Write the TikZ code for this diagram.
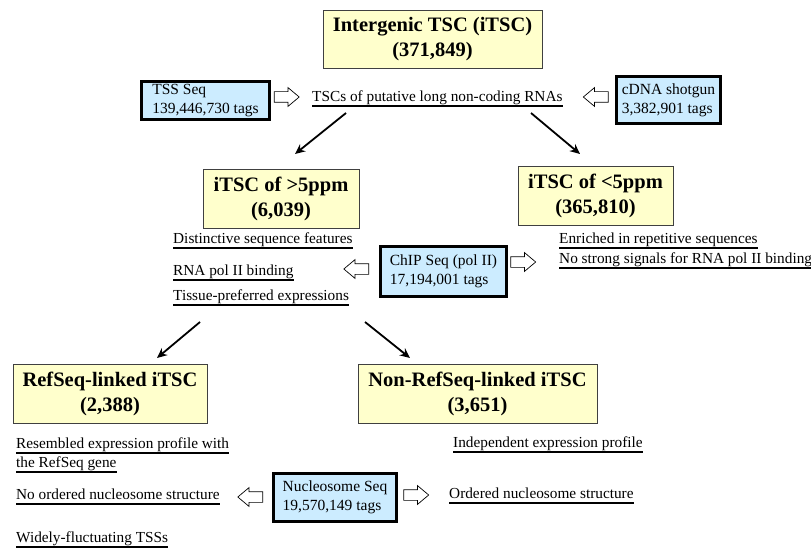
\documentclass[tikz,border=0pt]{standalone}
\usepackage{fontspec}
\setmainfont{Liberation Serif}
\usetikzlibrary{shapes.arrows,arrows.meta}
\definecolor{ylw}{HTML}{FFFFCC}
\definecolor{blu}{HTML}{CCECFF}
\begin{document}
\begin{tikzpicture}[x=1pt,y=-1pt,
 ybox/.style={draw=black!75, line width=0.9pt, fill=ylw, font=\fontsize{20.5}{25}\selectfont\bfseries, align=center, inner sep=0pt},
 bbox/.style={draw=black, line width=3pt, fill=blu, font=\fontsize{15.5}{19}\selectfont, align=left, inner sep=0pt},
 ul/.style={font=\fontsize{15.3}{18}\selectfont, inner xsep=0pt, inner ysep=1pt, text height=10.5pt, text depth=3.5pt, anchor=west,
   append after command={(\tikzlastnode.south west) edge[line width=2pt] (\tikzlastnode.south east)}},
 harrow/.style={single arrow, draw=black, line width=0.7pt, fill=white, minimum height=25pt, minimum width=17pt, inner xsep=0pt, inner ysep=5pt, single arrow head extend=4pt, single arrow tip angle=80},
 flow/.style={line width=1.8pt, -{Stealth[length=10pt,width=9pt]}}
]
\useasboundingbox[fill=white] (0,0) rectangle (811,548);

% yellow boxes
\node[ybox, minimum width=219pt, minimum height=58pt] (top) at (432.5,39) {Intergenic TSC (iTSC)\\(371,849)};
\node[ybox, minimum width=156pt, minimum height=59pt] (p5) at (281,198.5) {iTSC of {>}5ppm\\(6,039)};
\node[ybox, minimum width=155pt, minimum height=59pt] (m5) at (595.5,195.5) {iTSC of {<}5ppm\\(365,810)};
\node[ybox, minimum width=194pt, minimum height=59pt] (ref) at (110,393.5) {RefSeq-linked iTSC\\(2,388)};
\node[ybox, minimum width=239pt, minimum height=59pt] (nonref) at (477.5,393.5) {Non-RefSeq-linked iTSC\\(3,651)};

% blue boxes
\node[bbox, minimum width=128pt, minimum height=38pt] (tss) at (205.5,100.5) {TSS Seq\\139,446,730 tags};
\node[bbox, minimum width=104pt, minimum height=47pt] (cdna) at (668.5,100) {cDNA shotgun\\3,382,901 tags};
\node[bbox, minimum width=126pt, minimum height=50pt] (chip) at (443.5,271.5) {ChIP Seq (pol II)\\17,194,001 tags};
\node[bbox, minimum width=123pt, minimum height=48pt] (nuc) at (335,497.5) {Nucleosome Seq\\19,570,149 tags};

% underlined texts
\node[ul] (tscs) at (312,98) {TSCs of putative long non-coding RNAs};
\node[ul] (dist) at (173,240) {Distinctive sequence features};
\node[ul] (rna) at (173,272) {RNA pol II binding};
\node[ul] (tissue) at (173,297) {Tissue-preferred expressions};
\node[ul] (enr) at (559,240) {Enriched in repetitive sequences};
\node[ul] (nostrong) at (559,260) {No strong signals for RNA pol II binding};
\node[ul] (res1) at (16,445) {Resembled expression profile with};
\node[ul] (res2) at (16,464) {the RefSeq gene};
\node[ul] (noord) at (16,496) {No ordered nucleosome structure};
\node[ul] (widely) at (16,539) {Widely-fluctuating TSSs};
\node[ul] (indep) at (453,444) {Independent expression profile};
\node[ul] (ord) at (449,495) {Ordered nucleosome structure};

% hollow arrows
\node[harrow] (h1) at (283.5,97) {};
\node[harrow, shape border rotate=180] (h2) at (599,97) {};
\node[harrow, shape border rotate=180] (h3) at (359.5,269) {};
\node[harrow] (h4) at (520,262) {};
\node[harrow, shape border rotate=180] (h5) at (253.5,497) {};
\node[harrow] (h6) at (413,495) {};

% flow arrows
\coordinate (s1) at (346,113);
\coordinate (e1) at (295,154);
\coordinate (s2) at (531,113);
\coordinate (e2) at (580,154);
\coordinate (s3) at (200,322);
\coordinate (e3) at (157,358);
\coordinate (s4) at (365,322);
\coordinate (e4) at (410,358);
\draw[flow] (s1) -- (e1);
\draw[flow] (s2) -- (e2);
\draw[flow] (s3) -- (e3);
\draw[flow] (s4) -- (e4);
\end{tikzpicture}
\end{document}
